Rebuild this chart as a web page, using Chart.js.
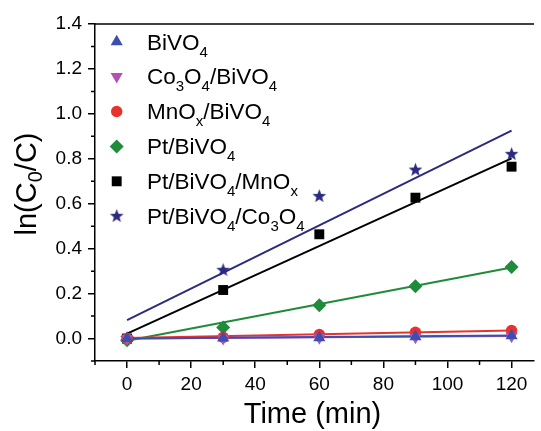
<!DOCTYPE html>
<html>
<head>
<meta charset="utf-8">
<script src="https://cdn.jsdelivr.net/npm/chart.js@4.4.1/dist/chart.umd.min.js"></script>
<style>
html,body{margin:0;padding:0;background:#fff;}
#wrap{width:541px;height:431px;position:relative;}
</style>
</head>
<body>
<div id="wrap"><canvas id="c" width="541" height="431"></canvas></div>
<script>
// ---- data ----
const times = [0, 30, 60, 90, 120];
const bivo4        = [0.000, 0.002, 0.004, 0.008, 0.012];
const co3o4Bivo4   = [0.000, 0.000, 0.003, 0.006, 0.010];
const mnoxBivo4    = [0.000, 0.006, 0.018, 0.028, 0.036];
const ptBivo4      = [-0.008, 0.049, 0.148, 0.233, 0.318];
const ptBivo4Mnox  = [0.000, 0.216, 0.464, 0.627, 0.765];
const ptBivo4Co3o4 = [0.000, 0.304, 0.633, 0.750, 0.820];

// linear-fit lines (end points)
const fitTimes = [0, 120];
const fitBivo4        = [0.000, 0.014];
const fitCo3o4Bivo4   = [0.000, 0.011];
const fitMnoxBivo4    = [0.002, 0.036];
const fitPtBivo4      = [-0.010, 0.316];
const fitPtBivo4Mnox  = [0.022, 0.802];
const fitPtBivo4Co3o4 = [0.082, 0.925];

const legendLabels = ["BiVO_4", "Co_3O_4/BiVO_4", "MnO_x/BiVO_4", "Pt/BiVO_4", "Pt/BiVO_4/MnO_x", "Pt/BiVO_4/Co_3O_4"];
const xTickValues = [0, 20, 40, 60, 80, 100, 120];
const xMinorTicks = [-10, 10, 30, 50, 70, 90, 110];
const yTickValues = [0.0, 0.2, 0.4, 0.6, 0.8, 1.0, 1.2, 1.4];
const yMinorTicks = [-0.1, 0.1, 0.3, 0.5, 0.7, 0.9, 1.1, 1.3];
const xTitle = "Time (min)";
const yTitle = "ln(C_0/C)";

const colors = {
  blue: '#3b4fb3', magenta: '#b152b4', red: '#e8322d',
  green: '#1f8b3b', black: '#000000', navy: '#2c2a7f'
};

function makeStar(color, R, r) {
  const s = Math.ceil(R * 2 + 2);
  const cv = document.createElement('canvas');
  cv.width = s; cv.height = s;
  const g = cv.getContext('2d');
  g.beginPath();
  for (let i = 0; i < 10; i++) {
    const rad = (i % 2 === 0) ? R : r;
    const a = -Math.PI / 2 + i * Math.PI / 5;
    const px = s / 2 + Math.cos(a) * rad, py = s / 2 + Math.sin(a) * rad;
    if (i === 0) g.moveTo(px, py); else g.lineTo(px, py);
  }
  g.closePath(); g.fillStyle = color; g.fill();
  return cv;
}
const starImg = makeStar(colors.navy, 7.2, 3.0);

function pts(xs, ys) { return xs.map((x, i) => ({x: x, y: ys[i]})); }

const seriesDefs = [
  {data: bivo4, fit: fitBivo4, color: colors.blue, style: 'triangle', rot: 0, r: 7},
  {data: co3o4Bivo4, fit: fitCo3o4Bivo4, color: colors.magenta, style: 'triangle', rot: 180, r: 7},
  {data: mnoxBivo4, fit: fitMnoxBivo4, color: colors.red, style: 'circle', rot: 0, r: 5.7},
  {data: ptBivo4, fit: fitPtBivo4, color: colors.green, style: 'rectRot', rot: 0, r: 7},
  {data: ptBivo4Mnox, fit: fitPtBivo4Mnox, color: colors.black, style: 'rect', rot: 0, r: 7},
  {data: ptBivo4Co3o4, fit: fitPtBivo4Co3o4, color: colors.navy, style: starImg, rot: 0, r: 7}
];

const datasets = [];
seriesDefs.forEach((s, i) => {
  datasets.push({
    label: legendLabels[i],
    data: pts(times, s.data),
    showLine: false,
    pointStyle: s.style,
    rotation: s.rot,
    pointRadius: s.r,
    pointBackgroundColor: s.color,
    pointBorderColor: s.color,
    pointBorderWidth: 0,
    order: 1
  });
  datasets.push({
    label: legendLabels[i] + ' fit',
    data: pts(fitTimes, s.fit),
    showLine: true,
    borderColor: s.color,
    borderWidth: 2,
    pointRadius: 0,
    fill: false,
    order: 2
  });
});

function drawRich(ctx, text, x, y, size, subSize, subDrop, align) {
  const segs = [];
  for (let i = 0; i < text.length; i++) {
    if (text[i] === '_' && i + 1 < text.length) { segs.push({t: text[i + 1], sub: true}); i++; }
    else {
      if (segs.length && !segs[segs.length - 1].sub) segs[segs.length - 1].t += text[i];
      else segs.push({t: text[i], sub: false});
    }
  }
  const fam = '"Liberation Sans", Arial, sans-serif';
  let total = 0;
  segs.forEach(s => { ctx.font = (s.sub ? subSize : size) + 'px ' + fam; s.w = ctx.measureText(s.t).width; total += s.w; });
  let cx = align === 'center' ? x - total / 2 : x;
  ctx.textAlign = 'left'; ctx.textBaseline = 'alphabetic';
  segs.forEach(s => {
    ctx.font = (s.sub ? subSize : size) + 'px ' + fam;
    ctx.fillText(s.t, cx, y + (s.sub ? subDrop : 0));
    cx += s.w;
  });
}

function drawMarker(ctx, def, x, y) {
  ctx.save();
  ctx.fillStyle = def.color;
  const r = def.r;
  ctx.beginPath();
  if (def.style === 'triangle') {
    const sgn = def.rot === 180 ? -1 : 1;
    ctx.moveTo(x, y - sgn * r);
    ctx.lineTo(x + r * Math.sqrt(3) / 2, y + sgn * r / 2);
    ctx.lineTo(x - r * Math.sqrt(3) / 2, y + sgn * r / 2);
    ctx.closePath(); ctx.fill();
  } else if (def.style === 'circle') {
    ctx.arc(x, y, r, 0, Math.PI * 2); ctx.fill();
  } else if (def.style === 'rectRot') {
    ctx.moveTo(x - r, y); ctx.lineTo(x, y - r); ctx.lineTo(x + r, y); ctx.lineTo(x, y + r);
    ctx.closePath(); ctx.fill();
  } else if (def.style === 'rect') {
    const h = r * Math.SQRT1_2;
    ctx.fillRect(x - h, y - h, 2 * h, 2 * h);
  } else {
    ctx.drawImage(def.style, x - def.style.width / 2, y - def.style.height / 2);
  }
  ctx.restore();
}

const decor = {
  id: 'decor',
  afterDraw(chart) {
    const ctx = chart.ctx;
    const xs = chart.scales.x, ys = chart.scales.y;
    const ca = chart.chartArea;
    ctx.save();
    ctx.strokeStyle = '#000'; ctx.lineWidth = 1.5;
    ctx.beginPath(); ctx.moveTo(ca.left, ca.top); ctx.lineTo(ca.right, ca.top); ctx.stroke();
    ctx.beginPath();
    xMinorTicks.forEach(v => { const px = xs.getPixelForValue(v); ctx.moveTo(px, ca.bottom); ctx.lineTo(px, ca.bottom + 4); });
    yMinorTicks.forEach(v => { const py = ys.getPixelForValue(v); ctx.moveTo(ca.left, py); ctx.lineTo(ca.left - 4, py); });
    ctx.stroke();
    ctx.fillStyle = '#000';
    drawRich(ctx, xTitle, (ca.left + ca.right) / 2 - 2, 423, 29, 19, 6, 'center');
    ctx.save();
    ctx.translate(36, 184);
    ctx.rotate(-Math.PI / 2);
    drawRich(ctx, yTitle, 0, 0, 29, 20, 6, 'center');
    ctx.restore();
    seriesDefs.forEach((d, i) => {
      const my = 41.7 + i * 34.9;
      drawMarker(ctx, d, 116.7, my);
      ctx.fillStyle = '#000';
      drawRich(ctx, legendLabels[i], 147, my + 7.8, 22.5, 15, 7, 'left');
    });
    ctx.restore();
  }
};

new Chart(document.getElementById('c'), {
  type: 'scatter',
  data: {datasets: datasets},
  options: {
    responsive: false,
    animation: false,
    events: [],
    layout: {padding: {top: 24, right: 0, left: 0, bottom: 0}},
    plugins: {legend: {display: false}, tooltip: {enabled: false}},
    scales: {
      x: {
        type: 'linear', min: -10, max: 127,
        afterBuildTicks: (s) => { s.ticks = xTickValues.map(v => ({value: v})); },
        afterFit: (s) => { s.height = 70; },
        grid: {drawOnChartArea: false, drawTicks: true, tickLength: 7, color: '#000', lineWidth: 1.5},
        border: {display: true, color: '#000', width: 1.5},
        ticks: {color: '#000', font: {family: '"Liberation Sans", Arial, sans-serif', size: 19}, padding: 5, maxRotation: 0,
                callback: (v) => String(v)}
      },
      y: {
        type: 'linear', min: -0.1, max: 1.4,
        afterBuildTicks: (s) => { s.ticks = yTickValues.map(v => ({value: v})); },
        afterFit: (s) => { s.width = 95; },
        grid: {drawOnChartArea: false, drawTicks: true, tickLength: 7, color: '#000', lineWidth: 1.5},
        border: {display: true, color: '#000', width: 1.5},
        ticks: {color: '#000', font: {family: '"Liberation Sans", Arial, sans-serif', size: 19}, padding: 6,
                callback: (v) => Number(v).toFixed(1)}
      }
    }
  },
  plugins: [decor]
});
</script>
</body>
</html>
